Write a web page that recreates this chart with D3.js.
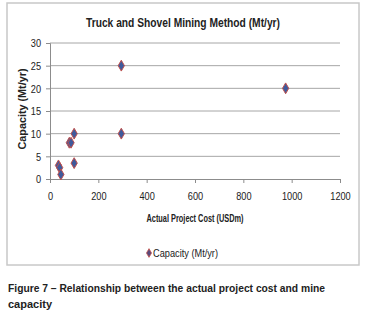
<!DOCTYPE html>
<html>
<head>
<meta charset="utf-8">
<script src="https://cdn.jsdelivr.net/npm/d3@7"></script>
<style>
  body { margin: 0; background: #fff; }
  text { font-family: "Liberation Sans Narrow", "Arial Narrow", "Liberation Sans", sans-serif; }
</style>
</head>
<body>
<div id="chart"></div>
<script>
// data
var costs = [35, 40, 45, 80, 87, 100, 100, 295, 295, 975];
var capacities = [3, 2.5, 1, 8, 8, 10, 3.5, 10, 25, 20];
var xTicks = [0, 200, 400, 600, 800, 1000, 1200];
var yTicks = [0, 5, 10, 15, 20, 25, 30];
var seriesName = "Capacity (Mt/yr)";

var W = 366, H = 320;
var svg = d3.select("#chart").append("svg")
  .attr("width", W).attr("height", H);

// squeeze text horizontally, the original uses a narrow face
function narrow(sel, f) {
  sel.each(function(){
    var len = this.getComputedTextLength();
    d3.select(this).attr("textLength", len * f).attr("lengthAdjust", "spacingAndGlyphs");
  });
}

// chart frame
svg.append("rect")
  .attr("x", 7).attr("y", 3).attr("width", 352).attr("height", 262)
  .attr("fill", "#fff").attr("stroke", "#c8c8c8").attr("stroke-width", 1.5);

var x = d3.scaleLinear().domain([0, 1200]).range([50, 340]);
var y = d3.scaleLinear().domain([0, 30]).range([179, 43]);

// gridlines
svg.append("g").selectAll("line")
  .data(yTicks.slice(1)).enter().append("line")
  .attr("x1", x(0)).attr("x2", x(1200))
  .attr("y1", function(d){ return y(d); }).attr("y2", function(d){ return y(d); })
  .attr("stroke", "#a6a6a6").attr("stroke-width", 1);

var xAxis = svg.append("g")
  .attr("transform", "translate(0," + y(0) + ")")
  .call(d3.axisBottom(x).tickValues(xTicks).tickFormat(d3.format("d")).tickSize(4).tickPadding(9));
var yAxis = svg.append("g")
  .attr("transform", "translate(" + x(0) + ",0)")
  .call(d3.axisLeft(y).tickValues(yTicks).tickFormat(d3.format("d")).tickSize(4).tickPadding(5));

[xAxis, yAxis].forEach(function(a){
  a.select(".domain").attr("stroke", "#8c8c8c");
  a.selectAll(".tick line").attr("stroke", "#8c8c8c");
  a.selectAll("text").style("font-size", "11.5px").attr("fill", "#222").call(narrow, 0.8);
});

// title
svg.append("text")
  .attr("x", 183).attr("y", 27)
  .attr("text-anchor", "middle")
  .style("font-size", "13px").style("font-weight", "bold")
  .attr("fill", "#222")
  .attr("textLength", 194).attr("lengthAdjust", "spacingAndGlyphs")
  .text("Truck and Shovel Mining Method (Mt/yr)");

// axis titles
svg.append("text")
  .attr("x", 195).attr("y", 222)
  .attr("text-anchor", "middle")
  .style("font-size", "10.5px").style("font-weight", "bold")
  .attr("fill", "#222")
  .attr("textLength", 97).attr("lengthAdjust", "spacingAndGlyphs")
  .text("Actual Project Cost (USDm)");

svg.append("text")
  .attr("transform", "translate(26,109) rotate(-90)")
  .attr("text-anchor", "middle")
  .style("font-size", "10.5px").style("font-weight", "bold")
  .attr("fill", "#222")
  .attr("textLength", 81).attr("lengthAdjust", "spacingAndGlyphs")
  .text("Capacity (Mt/yr)");

var diamond = d3.symbol().type(d3.symbolDiamond).size(34);

// points
svg.append("g").selectAll("path")
  .data(costs).enter().append("path")
  .attr("d", diamond)
  .attr("transform", function(d, i){ return "translate(" + x(d) + "," + y(capacities[i]) + ")"; })
  .attr("fill", "#3f5a9c")
  .attr("stroke", "#c0504d")
  .attr("stroke-width", 1);

// legend
var lg = svg.append("g").attr("transform", "translate(149,253)");
lg.append("path")
  .attr("d", d3.symbol().type(d3.symbolDiamond).size(22))
  .attr("fill", "#5a4a7c").attr("stroke", "#c0504d").attr("stroke-width", 0.8);
lg.append("text")
  .attr("x", 4).attr("y", 4)
  .style("font-size", "11px").attr("fill", "#222")
  .attr("textLength", 65).attr("lengthAdjust", "spacingAndGlyphs")
  .text(seriesName);

// caption
var cap = svg.append("g").style("font-weight", "bold").attr("fill", "#222");
cap.append("text").attr("x", 8).attr("y", 292)
  .style("font-size", "11px")
  .style("font-family", "'Liberation Sans', Arial, sans-serif")
  .attr("textLength", 317).attr("lengthAdjust", "spacingAndGlyphs")
  .text("Figure 7 \u2013 Relationship between the actual project cost and mine");
cap.append("text").attr("x", 8).attr("y", 308)
  .style("font-size", "11px")
  .style("font-family", "'Liberation Sans', Arial, sans-serif")
  .text("capacity");
</script>
</body>
</html>
